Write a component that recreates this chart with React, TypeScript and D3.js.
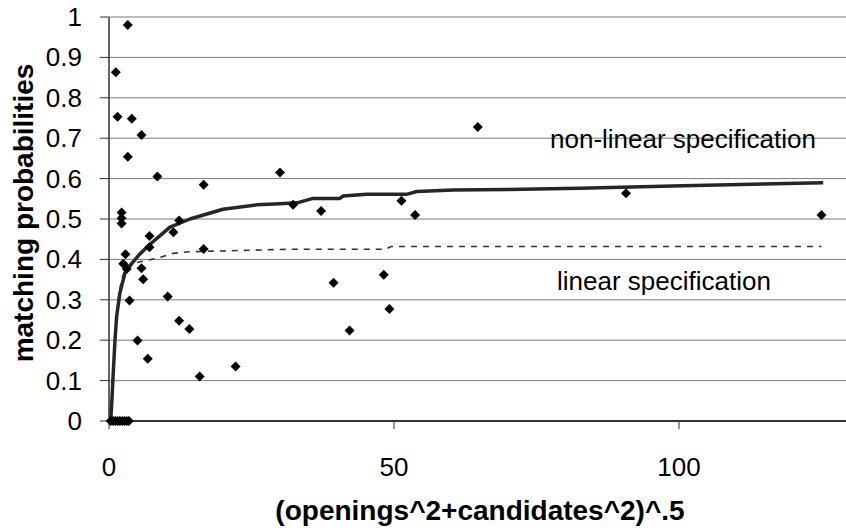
import * as d3 from 'd3';
import React, { useEffect, useRef } from 'react';

// observed matches (x = (openings^2+candidates^2)^.5, y = matching probability)
const obsX = [3.3, 1.2, 1.5, 4.0, 5.7, 3.3, 8.5, 16.6, 30.0, 2.2, 2.2, 2.2, 12.3, 7.1, 11.3, 7.1, 16.6, 2.9, 2.5, 3.1,
  5.7, 6.0, 3.6, 10.3, 12.3, 14.1, 5.0, 6.8, 15.9, 22.2, 64.7, 32.3, 37.2, 51.3, 53.7, 39.4, 48.2, 49.2, 42.2, 90.7, 125,
  0.3, 0.7, 1.1, 1.5, 1.9, 2.3, 2.7, 3.1, 3.5];
const obsY = [0.98, 0.863, 0.753, 0.748, 0.708, 0.654, 0.605, 0.585, 0.615, 0.516, 0.502, 0.489, 0.496, 0.458, 0.467, 0.43, 0.426, 0.413, 0.389, 0.376,
  0.378, 0.351, 0.298, 0.308, 0.248, 0.228, 0.199, 0.154, 0.11, 0.135, 0.728, 0.535, 0.52, 0.545, 0.51, 0.342, 0.362, 0.277, 0.224, 0.564, 0.51,
  0, 0, 0, 0, 0, 0, 0, 0, 0];

// fitted non-linear specification
const nlX = [0, 0.3, 0.5, 0.75, 1.05, 1.35, 1.9, 2.8, 4.0, 5.2, 7.0, 8.4, 10.7, 14.2, 20, 25.9, 30, 33, 35.8, 40.5, 41.1, 45.2, 52.2, 54, 60.4, 69.8, 82.6, 100.7, 125.3];
const nlY = [0, 0, 0.05, 0.12, 0.2, 0.26, 0.316, 0.366, 0.39, 0.41, 0.435, 0.452, 0.48, 0.5, 0.524, 0.535, 0.538, 0.54, 0.551, 0.551, 0.557, 0.561, 0.561, 0.568, 0.572, 0.573, 0.576, 0.582, 0.59];

// fitted linear specification
const linX = [0.3, 0.7, 1.0, 1.6, 2.2, 3.1, 5.4, 8.4, 11.3, 14.2, 31.2, 48.5, 49.5, 125];
const linY = [0, 0.1, 0.2, 0.3, 0.35, 0.386, 0.394, 0.403, 0.415, 0.419, 0.425, 0.425, 0.432, 0.432];

const yTicks = [0, 0.1, 0.2, 0.3, 0.4, 0.5, 0.6, 0.7, 0.8, 0.9, 1];
const xTicks = [0, 50, 100];

const W = 846;
const H = 531;
const FONT = "'Liberation Sans', Arial, sans-serif";

export default function App() {
  const ref = useRef<SVGSVGElement>(null);

  useEffect(() => {
    const svg = d3.select(ref.current);
    svg.selectAll('*').remove();

    const x = d3.scaleLinear().domain([0, 150]).range([109, 109 + 150 * 5.7]);
    const y = d3.scaleLinear().domain([0, 1]).range([421, 17]);

    const g = svg.append('g');

    // horizontal gridlines
    g.selectAll('line.grid')
      .data(yTicks.filter(d => d > 0))
      .enter()
      .append('line')
      .attr('x1', x(0)).attr('x2', W)
      .attr('y1', d => y(d)).attr('y2', d => y(d))
      .attr('stroke', '#7a7a7a')
      .attr('stroke-width', 1);

    // y axis + ticks
    g.append('line')
      .attr('x1', x(0)).attr('x2', x(0))
      .attr('y1', y(1)).attr('y2', y(0))
      .attr('stroke', '#333').attr('stroke-width', 1.5);
    g.selectAll('line.ytick')
      .data(yTicks)
      .enter()
      .append('line')
      .attr('x1', x(0) - 9).attr('x2', x(0))
      .attr('y1', d => y(d)).attr('y2', d => y(d))
      .attr('stroke', '#333').attr('stroke-width', 1);
    g.selectAll('text.ylab')
      .data(yTicks)
      .enter()
      .append('text')
      .attr('x', 82)
      .attr('y', d => y(d) + 9)
      .attr('text-anchor', 'end')
      .style('font-family', FONT)
      .style('font-size', '26px')
      .text(d => String(d));

    // x axis + ticks
    g.append('line')
      .attr('x1', x(0)).attr('x2', W)
      .attr('y1', y(0)).attr('y2', y(0))
      .attr('stroke', '#333').attr('stroke-width', 2);
    g.selectAll('line.xtick')
      .data(xTicks)
      .enter()
      .append('line')
      .attr('x1', d => x(d)).attr('x2', d => x(d))
      .attr('y1', y(0)).attr('y2', y(0) + 8)
      .attr('stroke', '#333').attr('stroke-width', 1);
    g.selectAll('text.xlab')
      .data(xTicks)
      .enter()
      .append('text')
      .attr('x', d => x(d))
      .attr('y', 476)
      .attr('text-anchor', 'middle')
      .style('font-family', FONT)
      .style('font-size', '26px')
      .text(d => String(d));

    // linear specification (dashed)
    const line = d3.line<number>().x(d => x(d[0])).y(d => y(d[1]));
    g.append('path')
      .datum(linX.map((v, i) => [v, linY[i]]))
      .attr('d', line as any)
      .attr('fill', 'none')
      .attr('stroke', '#333')
      .attr('stroke-width', 1.6)
      .attr('stroke-dasharray', '6,6');

    // non-linear specification (solid)
    g.append('path')
      .datum(nlX.map((v, i) => [v, nlY[i]]))
      .attr('d', line as any)
      .attr('fill', 'none')
      .attr('stroke', '#262626')
      .attr('stroke-width', 3.5)
      .attr('stroke-linejoin', 'round');

    // data markers (diamonds)
    const diamond = d3.symbol().type(d3.symbolSquare).size(50);
    g.selectAll('path.pt')
      .data(obsX.map((v, i) => [v, obsY[i]]))
      .enter()
      .append('path')
      .attr('d', diamond as any)
      .attr('transform', d => `translate(${x(d[0])},${y(d[1])}) rotate(45)`)
      .attr('fill', '#000');

    // annotations
    g.append('text')
      .attr('x', 550).attr('y', 148)
      .style('font-family', FONT).style('font-size', '26px')
      .text('non-linear specification');
    g.append('text')
      .attr('x', 557).attr('y', 290)
      .style('font-family', FONT).style('font-size', '26px')
      .text('linear specification');

    // axis titles
    g.append('text')
      .attr('transform', 'translate(33,213) rotate(-90)')
      .attr('text-anchor', 'middle')
      .style('font-family', FONT).style('font-size', '28px').style('font-weight', 'bold')
      .text('matching probabilities');
    g.append('text')
      .attr('x', 480).attr('y', 520)
      .attr('text-anchor', 'middle')
      .style('font-family', FONT).style('font-size', '28px').style('font-weight', 'bold')
      .text('(openings^2+candidates^2)^.5');
  }, []);

  return (
    <svg ref={ref} width={W} height={H} style={{ position: 'absolute', left: 0, top: 0, background: '#fff' }}></svg>
  );
}
